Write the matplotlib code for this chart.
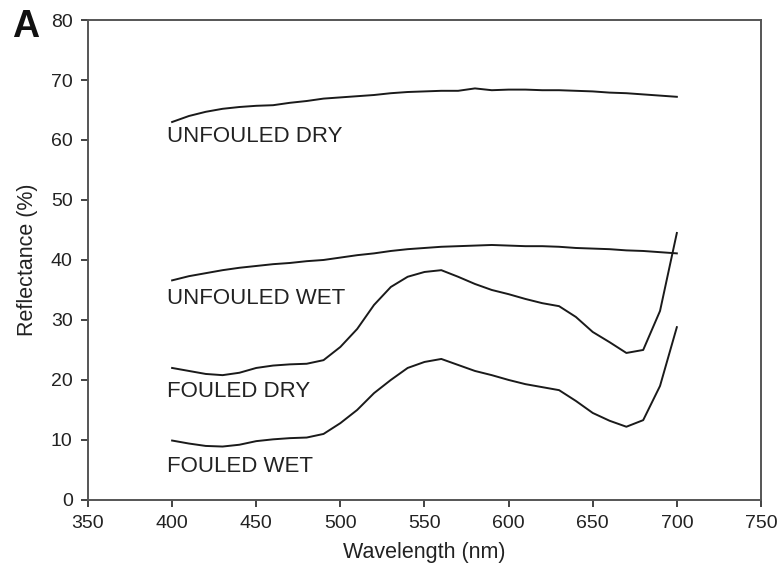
import matplotlib
matplotlib.use("Agg")
import matplotlib.pyplot as plt

plt.rcParams['font.family'] = ['Liberation Sans', 'DejaVu Sans']

# Wavelength grid (nm)
wavelength = list(range(400, 701, 10))

# Reflectance (%)
unfouled_dry = [63.0, 64.0, 64.7, 65.2, 65.5, 65.7, 65.8, 66.2, 66.5, 66.9, 67.1,
                67.3, 67.5, 67.8, 68.0, 68.1, 68.2, 68.2, 68.6, 68.3, 68.4,
                68.4, 68.3, 68.3, 68.2, 68.1, 67.9, 67.8, 67.6, 67.4, 67.2]
unfouled_wet = [36.6, 37.3, 37.8, 38.3, 38.7, 39.0, 39.3, 39.5, 39.8, 40.0, 40.4,
                40.8, 41.1, 41.5, 41.8, 42.0, 42.2, 42.3, 42.4, 42.5, 42.4,
                42.3, 42.3, 42.2, 42.0, 41.9, 41.8, 41.6, 41.5, 41.3, 41.1]
fouled_dry = [22.0, 21.5, 21.0, 20.8, 21.2, 22.0, 22.4, 22.6, 22.7, 23.3, 25.5,
              28.5, 32.5, 35.5, 37.2, 38.0, 38.3, 37.2, 36.0, 35.0, 34.3,
              33.5, 32.8, 32.3, 30.5, 28.0, 26.3, 24.5, 25.0, 31.5, 44.5]
fouled_wet = [9.9, 9.4, 9.0, 8.9, 9.2, 9.8, 10.1, 10.3, 10.4, 11.0, 12.8,
              15.0, 17.8, 20.0, 22.0, 23.0, 23.5, 22.5, 21.5, 20.8, 20.0,
              19.3, 18.8, 18.3, 16.5, 14.5, 13.2, 12.2, 13.3, 19.0, 28.8]

series = [unfouled_dry, unfouled_wet, fouled_dry, fouled_wet]
labels = ["UNFOULED DRY", "UNFOULED WET", "FOULED DRY", "FOULED WET"]
label_y = [60.5, 33.6, 18.0, 5.5]

fig = plt.figure(figsize=(7.8, 5.72), dpi=100)
ax = fig.add_axes([0.1128, 0.126, 0.8628, 0.839])

for ys in series:
    ax.plot(wavelength, ys, color='#1a1a1a', lw=1.4)

for lab, yy in zip(labels, label_y):
    ax.text(397, yy, lab, fontsize=16, color='#222222', va='center', ha='left')

ax.set_xlim(350, 750)
ax.set_ylim(0, 80)
ax.set_xticks(range(350, 751, 50))
ax.set_yticks(range(0, 81, 10))
ax.tick_params(axis='both', labelsize=14, colors='#222222', length=5,
               width=1.2, direction='out', top=False, right=False, pad=6)
for sp in ax.spines.values():
    sp.set_color('#555555')
    sp.set_linewidth(1.4)

ax.set_xlabel("Wavelength (nm)", fontsize=15.5, color='#222222', labelpad=7)
ax.set_ylabel("Reflectance (%)", fontsize=15.5, color='#222222', labelpad=9)

fig.text(0.015, 0.935, "A", fontsize=27, fontweight='bold', color='#111111')

fig.savefig("out.png", dpi=100)
